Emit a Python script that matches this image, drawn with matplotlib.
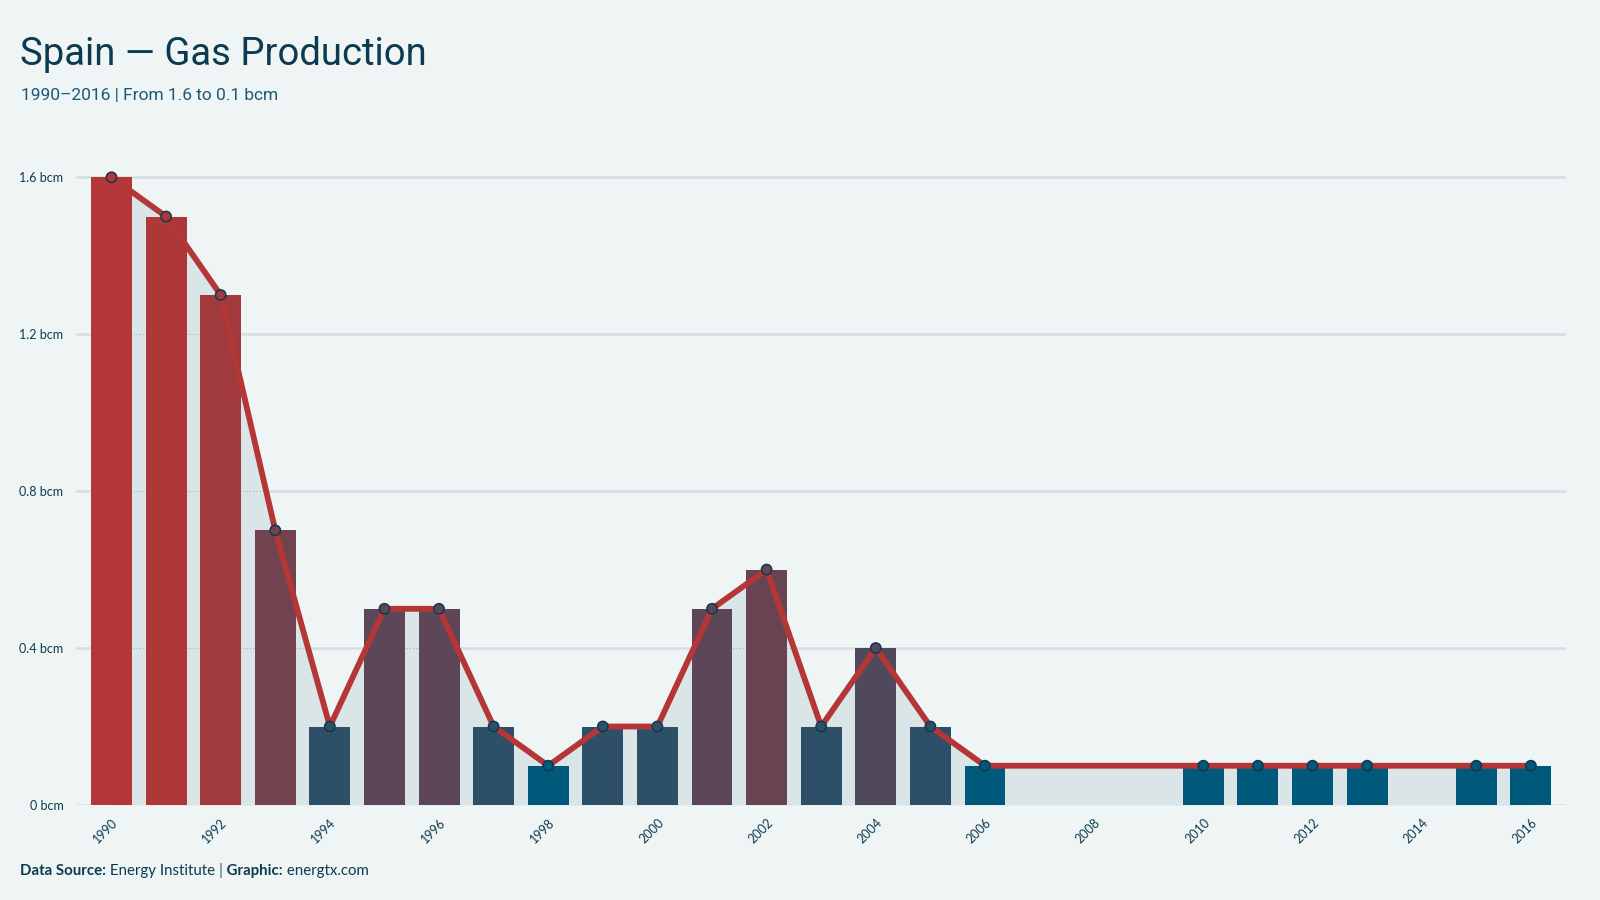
import matplotlib.pyplot as plt
import matplotlib.colors as mcolors
import numpy as np

years = list(range(1990, 2017))
values = [1.6, 1.5, 1.3, 0.7, 0.2, 0.5, 0.5, 0.2, 0.1, 0.2, 0.2, 0.5, 0.6, 0.2,
          0.4, 0.2, 0.1, None, None, None, 0.1, 0.1, 0.1, 0.1, None, 0.1, 0.1]
y_ticks = [0, 0.4, 0.8, 1.2, 1.6]
y_tick_labels = ["0 bcm", "0.4 bcm", "0.8 bcm", "1.2 bcm", "1.6 bcm"]
x_ticks = list(range(1990, 2017, 2))

title = "Spain \u2014 Gas Production"
subtitle = "1990\u20132016 | From 1.6 to 0.1 bcm"

BG = "#eff5f5"
NAVY = "#0d3a4f"
RED = "#b43636"
LOW = "#00587a"
AREA = "#dae5e8"
GRID = "#d3dfe2"

head = ["Roboto", "DejaVu Sans"]
body = ["Lato", "DejaVu Sans"]

yrs = np.array([y for y, v in zip(years, values) if v is not None])
vals = np.array([v for v in values if v is not None])

lo, hi = vals.min(), vals.max()
c_lo = np.array(mcolors.to_rgb(LOW))
c_hi = np.array(mcolors.to_rgb(RED))
t = np.sqrt((vals - lo) / (hi - lo))
bar_colors = [tuple(c_lo + (c_hi - c_lo) * k) for k in t]

fig = plt.figure(figsize=(16, 9), dpi=100, facecolor=BG)
ax = fig.add_axes([0.0475, 0.1056, 0.9315, 0.741])
ax.set_facecolor(BG)

area = ax.fill_between(yrs, vals, 0, color=AREA, lw=0, zorder=1)
area_path = area.get_paths()[0]

# grid: solid over background, dotted where it crosses the area
for yt in y_ticks:
    ax.axhline(yt, color=GRID, lw=1.8, zorder=0)
    dl = ax.axhline(yt, color="#a3b3b8", lw=0.8, ls=(0, (1, 2)), zorder=1.5)
    dl.set_clip_path(area_path, transform=ax.transData)

ax.bar(yrs, vals, width=0.75, color=bar_colors, zorder=2)
ax.plot(yrs, vals, color=RED, lw=4.2, zorder=3, solid_joinstyle="miter")
ax.scatter(yrs, vals, s=55, c=bar_colors, edgecolors=NAVY, linewidths=1.1, zorder=4)

ax.set_xlim(1989.35, 2016.65)
ax.set_ylim(0, 1.7)
ax.set_yticks(y_ticks)
ax.set_yticklabels(y_tick_labels, fontsize=9, color=NAVY, family=body)
ax.set_xticks(x_ticks)
ax.set_xticklabels([str(x) for x in x_ticks], rotation=45, ha="right",
                   rotation_mode="anchor", fontsize=9, color=NAVY, family=body)
ax.tick_params(length=0, pad=9)
ax.tick_params(axis="x", pad=8)
for s in ax.spines.values():
    s.set_visible(False)

fig.text(20 / 1600, 1 - 65 / 900, title, fontsize=27.5, color=NAVY,
         family=head, va="baseline")
fig.text(21 / 1600, 1 - 100 / 900, subtitle, fontsize=12.5, color="#1b5878",
         family=head, va="baseline")

# footer with mixed weights
renderer = fig.canvas.get_renderer()
pieces = [("Data Source:", "bold", NAVY), (" Energy Institute ", "normal", NAVY),
          ("|", "bold", "#6a8796"), (" Graphic:", "bold", NAVY), (" energtx.com", "normal", NAVY)]
x = 20 / 1600
for txt, wt, col in pieces:
    tt = fig.text(x, 1 - 875 / 900, txt, fontsize=10.8, fontweight=wt, color=col,
                  family=body, va="baseline")
    bb = tt.get_window_extent(renderer)
    x += bb.width / 1600

fig.savefig("out.png", dpi=100, facecolor=BG)
